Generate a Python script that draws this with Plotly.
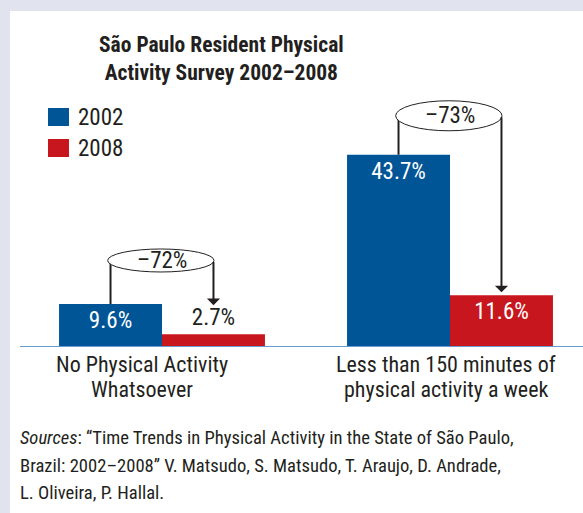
import plotly.graph_objects as go

# ---------------- data ----------------
categories = ["No Physical Activity<br>Whatsoever",
              "Less than 150 minutes of<br>physical activity a week"]
series_names = ["2002", "2008"]
values_2002 = [9.6, 43.7]
values_2008 = [2.7, 11.6]
change_labels = ["\u201372%", "\u201373%"]
title_text = "São Paulo Resident Physical<br>Activity Survey 2002\u20132008"
source_lines = ["<i>Sources</i>: \u201cTime Trends in Physical Activity in the State of São Paulo,",
                "Brazil: 2002\u20132008\u201d V. Matsudo, S. Matsudo, T. Araujo, D. Andrade,",
                "L. Oliveira, P. Hallal."]

# ---------------- style ----------------
BLUE = "#005596"
RED = "#c8161e"
TEXT = "#231f20"
BG = "#e1e4ef"
AXIS = "#6a9bd0"
FONT = "Roboto Condensed, Liberation Sans Narrow, sans-serif"

W, H = 583, 513
L, R, T, B = 20, 0, 90, 167
PW, PH = W - L - R, H - T - B
Y_MAX = 58.5
SCALE = PH / Y_MAX          # px per unit
BARGAP = 0.285
HALF = (1 - BARGAP) / 4     # offset of each bar center from category center

def px_x(px):
    return (px - L) / PW

def px_y(py):
    return (H - B - py) / PH

x = list(range(len(categories)))

fig = go.Figure()
colors = [BLUE, RED]
for name, vals, col in zip(series_names, [values_2002, values_2008], colors):
    fig.add_bar(
        x=x, y=vals, name=name, marker_color=col, marker_line_width=0,
        text=[f"{v}%" for v in vals], textposition="auto",
        insidetextanchor="end", constraintext="none", textangle=0,
        insidetextfont=dict(color="white", size=23, family=FONT),
        outsidetextfont=dict(color=TEXT, size=23, family=FONT),
        cliponaxis=False, hoverinfo="skip", showlegend=False,
    )

shapes = []
annotations = []

# white panel
shapes.append(dict(type="rect", xref="paper", yref="paper", layer="below",
                   x0=px_x(10), x1=px_x(W + 5), y0=px_y(11), y1=px_y(H + 5),
                   fillcolor="white", line_width=0))

# title
annotations.append(dict(xref="paper", yref="paper", x=px_x(221), y=px_y(58),
                        xanchor="center", yanchor="middle", text=title_text, showarrow=False,
                        font=dict(size=21.5, color=TEXT, family=FONT, weight="bold")))

# change indicators
ell_rise = [(32, 55), (24, 54)]   # px above the 2002 bar top (bottom, top of ellipse)
arrow_standoff = [29, 3]
for i, (v1, v2, lab) in enumerate(zip(values_2002, values_2008, change_labels)):
    lo, hi = ell_rise[i]
    mid_px = (lo + hi) / 2
    mid_y = v1 + mid_px / SCALE
    shapes.append(dict(type="line", xref="x", yref="y",
                       x0=i - HALF, x1=i - HALF, y0=v1, y1=mid_y,
                       line=dict(color=TEXT, width=2)))
    shapes.append(dict(type="circle", xref="x", yref="y",
                       x0=i - HALF - 0.01, x1=i + HALF + 0.002,
                       y0=v1 + lo / SCALE, y1=v1 + hi / SCALE,
                       fillcolor="white", line=dict(color=TEXT, width=1)))
    annotations.append(dict(x=i, y=mid_y, xref="x", yref="y", text=lab,
                            showarrow=False, font=dict(size=23, color=TEXT, family=FONT)))
    annotations.append(dict(x=i + HALF, y=v2, xref="x", yref="y",
                            ax=i + HALF, ay=mid_y, axref="x", ayref="y",
                            text="", showarrow=True, arrowhead=1, arrowsize=1.1,
                            arrowwidth=2, arrowcolor=TEXT, standoff=arrow_standoff[i]))

# legend (custom)
leg_y = [(108, 126), (139, 157)]
for (y0, y1), name, col in zip(leg_y, series_names, colors):
    shapes.append(dict(type="rect", xref="paper", yref="paper",
                       x0=px_x(48), x1=px_x(69), y0=px_y(y1), y1=px_y(y0),
                       fillcolor=col, line_width=0))
    annotations.append(dict(xref="paper", yref="paper", x=px_x(76), y=px_y((y0 + y1) / 2),
                            xanchor="left", yanchor="middle", text=name, showarrow=False,
                            font=dict(size=23, color=TEXT, family=FONT)))

# category labels (one annotation per line for tight line spacing)
label_shift = [-0.068, -0.015]
label_line_y = [364, 389]
for i, cat in enumerate(categories):
    for line, ly in zip(cat.split("<br>"), label_line_y):
        annotations.append(dict(xref="x", yref="paper", x=i + label_shift[i], y=px_y(ly),
                                xanchor="center", yanchor="middle", text=line, showarrow=False,
                                font=dict(size=22, color=TEXT, family=FONT)))

# source note
source_line_y = [438, 466, 493]
for line, ly in zip(source_lines, source_line_y):
    annotations.append(dict(xref="paper", yref="paper", x=px_x(18), y=px_y(ly),
                            xanchor="left", yanchor="middle", align="left", text=line,
                            showarrow=False, font=dict(size=18.6, color=TEXT, family=FONT)))

fig.update_layout(
    width=W, height=H,
    margin=dict(l=L, r=R, t=T, b=B, pad=0),
    paper_bgcolor=BG, plot_bgcolor="rgba(0,0,0,0)",
    barmode="group", bargap=BARGAP, bargroupgap=0,
    font=dict(family=FONT, color=TEXT),
    xaxis=dict(range=[-(162 - L) / 288, (W - 162) / 288], tickvals=x,
               showticklabels=False,
               showline=True, linecolor=AXIS, linewidth=1, showgrid=False,
               zeroline=False, ticks=""),
    yaxis=dict(range=[0, Y_MAX], visible=False, showgrid=False, zeroline=False),
    shapes=shapes, annotations=annotations, showlegend=False,
)

fig.write_html("out.html", config={"displayModeBar": False, "staticPlot": True},
               post_script="document.body.style.margin='0';document.body.style.background='%s';" % BG)
